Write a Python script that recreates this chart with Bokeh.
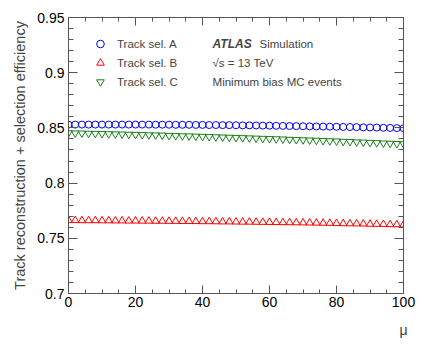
from bokeh.plotting import figure
from bokeh.models import (Range1d, SingleIntervalTicker, FixedTicker, LinearAxis, Legend,
                          LegendItem, Label, CustomJSTickFormatter, ColumnDataSource)
from bokeh.embed import file_html
from bokeh.resources import INLINE

mu = list(range(0, 101, 2))
sel_a = [0.8530] * 11 + [
    0.8530, 0.8530, 0.8529, 0.8529, 0.8529, 0.8528, 0.8528, 0.8528, 0.8527, 0.8527,
    0.8526, 0.8526, 0.8525, 0.8525, 0.8524, 0.8523, 0.8523, 0.8522, 0.8521, 0.8520,
    0.8519, 0.8518, 0.8517, 0.8516, 0.8515, 0.8514, 0.8513, 0.8512, 0.8511, 0.8510,
    0.8509, 0.8508, 0.8507, 0.8505, 0.8504, 0.8503, 0.8501, 0.8500, 0.8498, 0.8497]
sel_b = [
    0.7662, 0.7662, 0.7661, 0.7661, 0.7661, 0.7660, 0.7660, 0.7659, 0.7659, 0.7658, 0.7658,
    0.7657, 0.7657, 0.7656, 0.7656, 0.7655, 0.7655, 0.7654, 0.7654, 0.7653, 0.7652,
    0.7652, 0.7651, 0.7650, 0.7650, 0.7649, 0.7648, 0.7648, 0.7647, 0.7646, 0.7645,
    0.7644, 0.7643, 0.7643, 0.7642, 0.7641, 0.7640, 0.7639, 0.7638, 0.7637, 0.7635,
    0.7634, 0.7633, 0.7632, 0.7631, 0.7629, 0.7628, 0.7627, 0.7625, 0.7624, 0.7622]
sel_c = [
    0.8455, 0.8453, 0.8452, 0.8450, 0.8449, 0.8447, 0.8446, 0.8444, 0.8443, 0.8441, 0.8440,
    0.8438, 0.8436, 0.8435, 0.8433, 0.8431, 0.8429, 0.8427, 0.8426, 0.8424, 0.8422,
    0.8420, 0.8418, 0.8416, 0.8414, 0.8412, 0.8410, 0.8408, 0.8406, 0.8404, 0.8402,
    0.8400, 0.8398, 0.8395, 0.8393, 0.8391, 0.8389, 0.8387, 0.8384, 0.8382, 0.8380,
    0.8377, 0.8375, 0.8372, 0.8370, 0.8367, 0.8365, 0.8362, 0.8360, 0.8357, 0.8355]
series_names = ["Track sel. A", "Track sel. B", "Track sel. C"]
y_major = [0.7, 0.75, 0.8, 0.85, 0.9, 0.95]
y_minor = [round(0.7 + 0.01 * i, 2) for i in range(26)]

FONT = "Liberation Sans"
AX = "#555555"

p = figure(width=424, height=348, output_backend="svg", toolbar_location=None,
           x_range=Range1d(0, 100), y_range=Range1d(0.7, 0.95),
           min_border_left=68, min_border_right=21, min_border_top=17, min_border_bottom=55)
p.background_fill_color = "white"
p.border_fill_color = "white"
p.xgrid.visible = False
p.ygrid.visible = False
p.outline_line_color = AX
p.outline_line_width = 1

p.xaxis.ticker = SingleIntervalTicker(interval=20, num_minor_ticks=4)
p.yaxis.ticker = FixedTicker(ticks=y_major, minor_ticks=y_minor)
p.yaxis.formatter = CustomJSTickFormatter(code="return String(Math.round(tick*100)/100);")

def style(ax, xdir):
    ax.axis_line_color = AX
    ax.major_tick_line_color = AX
    ax.minor_tick_line_color = AX
    ax.major_tick_out = 0
    ax.minor_tick_out = 0
    if xdir:
        ax.major_tick_in = 8
        ax.minor_tick_in = 4
    else:
        ax.major_tick_in = 9
        ax.minor_tick_in = 5
    ax.major_label_text_font = FONT
    ax.major_label_text_font_size = "14px"
    ax.major_label_text_color = "black"

style(p.xaxis[0], True)
style(p.yaxis[0], False)
p.xaxis.major_label_standoff = 3
p.yaxis.major_label_standoff = 4
p.yaxis.axis_label = "Track reconstruction + selection efficiency"
p.yaxis.axis_label_text_font = FONT
p.yaxis.axis_label_text_font_size = "14.5px"
p.yaxis.axis_label_text_font_style = "normal"
p.yaxis.axis_label_standoff = 6

xb = p.xaxis[0]
xb.axis_label = "\u03bc"
xb.axis_label_text_font = FONT
xb.axis_label_text_font_size = "14px"
xb.axis_label_text_font_style = "normal"
xb.axis_label_standoff = 12
xb.axis_label_align = "end"

top = LinearAxis(ticker=SingleIntervalTicker(interval=20, num_minor_ticks=4),
                 formatter=CustomJSTickFormatter(code="return '';"))
right = LinearAxis(ticker=FixedTicker(ticks=y_major, minor_ticks=y_minor),
                   formatter=CustomJSTickFormatter(code="return '';"))
style(top, True)
style(right, False)
for a in (top, right):
    a.major_label_standoff = 0
p.add_layout(top, "above")
p.add_layout(right, "right")

src = ColumnDataSource(dict(mu=mu, a=sel_a, b=sel_b, c=sel_c))
ra = p.scatter("mu", "a", source=src, marker="circle", size=7, fill_color=None,
               line_color="#0000ff", line_width=1)
rb = p.scatter("mu", "b", source=src, marker="triangle", size=7.5, fill_color=None,
               line_color="#ff0000", line_width=1)
rc = p.scatter("mu", "c", source=src, marker="inverted_triangle", size=7.5, fill_color=None,
               line_color="#1a7f1a", line_width=1)

legend = Legend(items=[LegendItem(label=series_names[0], renderers=[ra]),
                       LegendItem(label=series_names[1], renderers=[rb]),
                       LegendItem(label=series_names[2], renderers=[rc])],
                location=(22, 202), padding=10, margin=0, spacing=0,
                glyph_width=20, glyph_height=19, label_height=19, label_standoff=7,
                label_text_font=FONT, label_text_font_size="11.5px",
                border_line_color=None, background_fill_alpha=0)
p.add_layout(legend, "center")

lx = 43
p.add_layout(Label(x=lx, y=0.9264, text="ATLAS", text_font=FONT, text_font_size="12px",
                   text_font_style="bold italic", text_baseline="middle"))
p.add_layout(Label(x=lx, y=0.9264, x_offset=47, text="Simulation", text_font=FONT,
                   text_font_size="11.5px", text_baseline="middle"))
p.add_layout(Label(x=lx, y=0.9092, text="\u221as = 13 TeV", text_font=FONT,
                   text_font_size="11.5px", text_baseline="middle"))
p.add_layout(Label(x=lx, y=0.8920, text="Minimum bias MC events", text_font=FONT,
                   text_font_size="11.5px", text_baseline="middle"))

open("out.html", "w").write(file_html(p, INLINE))
